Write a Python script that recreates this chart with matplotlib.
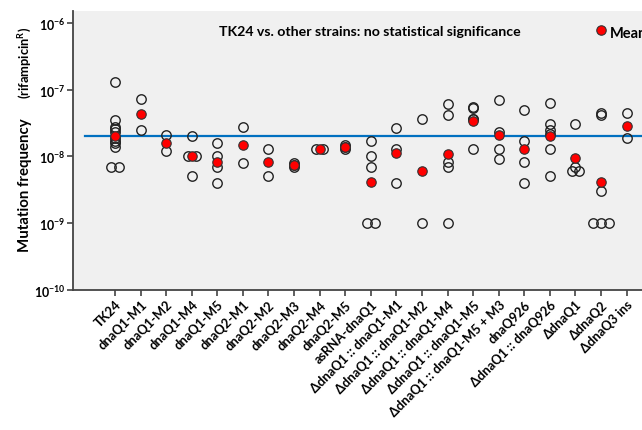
import numpy as np
import matplotlib
matplotlib.use("Agg")
import matplotlib.pyplot as plt

plt.rcParams['font.family'] = ['Lato', 'DejaVu Sans']
plt.rcParams['font.weight'] = 'bold'
plt.rcParams['mathtext.fontset'] = 'custom'
plt.rcParams['mathtext.rm'] = 'Lato'
plt.rcParams['mathtext.bf'] = 'Lato:bold'

strains = ["TK24", "dnaQ1-M1", "dnaQ1-M2", "dnaQ1-M4", "dnaQ1-M5",
           "dnaQ2-M1", "dnaQ2-M2", "dnaQ2-M3", "dnaQ2-M4", "dnaQ2-M5",
           "asRNA-dnaQ1", "ΔdnaQ1 :: dnaQ1-M1", "ΔdnaQ1 :: dnaQ1-M2",
           "ΔdnaQ1 :: dnaQ1-M4", "ΔdnaQ1 :: dnaQ1-M5", "ΔdnaQ1 :: dnaQ1-M5 + M3",
           "dnaQ926", "ΔdnaQ1 :: dnaQ926", "ΔdnaQ1", "ΔdnaQ2", "ΔdnaQ3 ins"]

replicates = [
    [1.32e-7, 3.5e-8, 2.8e-8, 2.6e-8, 2.3e-8, 1.9e-8, 1.73e-8, 1.58e-8, 1.4e-8, 7e-9, 7e-9],
    [7.3e-8, 2.5e-8],
    [2.12e-8, 1.2e-8],
    [2.0e-8, 1e-8, 1e-8, 5e-9],
    [1.6e-8, 1e-8, 7e-9, 4e-9],
    [2.8e-8, 7.9e-9],
    [1.3e-8, 5e-9],
    [8e-9, 7.5e-9, 7e-9],
    [1.3e-8, 1.3e-8],
    [1.5e-8, 1.4e-8, 1.3e-8],
    [1.7e-8, 1e-8, 7e-9, 1e-9, 1e-9],
    [2.7e-8, 1.3e-8, 4e-9],
    [3.7e-8, 1e-9],
    [6.1e-8, 4.2e-8, 8.1e-9, 7e-9, 1e-9],
    [5.6e-8, 5.3e-8, 3.7e-8, 3.6e-8, 1.3e-8],
    [6.9e-8, 2.35e-8, 1.3e-8, 9.1e-9],
    [4.9e-8, 1.7e-8, 8.1e-9, 4e-9],
    [6.3e-8, 3.1e-8, 2.5e-8, 2.2e-8, 1.3e-8, 5e-9],
    [3.1e-8, 7e-9, 6e-9, 6e-9],
    [4.4e-8, 4.2e-8, 3e-9, 1e-9, 1e-9, 1e-9],
    [4.4e-8, 1.9e-8],
]

means = [2.05e-8, 4.3e-8, 1.58e-8, 1.0e-8, 8.2e-9, 1.5e-8, 8.1e-9, 7.4e-9, 1.3e-8,
         1.4e-8, 4.1e-9, 1.12e-8, 6.0e-9, 1.1e-8, 3.4e-8, 2.1e-8, 1.29e-8, 2.0e-8,
         9.4e-9, 4.2e-9, 2.9e-8]

tk24_level = 2.05e-8

fig = plt.figure(figsize=(6.42, 4.31), dpi=100)
ax = fig.add_axes([0.1137, 0.3255, 0.8863, 0.6465])
ax.set_facecolor('#f0f0f0')

spacing = 0.30
for i, vals in enumerate(replicates):
    xs, ys = [], []
    for v in sorted(set(vals)):
        n = vals.count(v)
        for k in range(n):
            xs.append(i + (k - (n - 1) / 2) * spacing)
            ys.append(v)
    ax.plot(xs, ys, 'o', ms=6.8, mfc='none', mec='#222222', mew=1.0, zorder=3)

ax.plot(range(len(strains)), means, 'o', ms=6.8, mfc='#ff0000', mec='#333333',
        mew=0.8, zorder=4, ls='none')

ax.plot([-1.17, 21.5], [tk24_level, tk24_level], color='#0070c0', lw=1.6, zorder=2)

ax.set_yscale('log')
ax.set_ylim(1e-10, 10 ** -5.82)
ax.set_xlim(-1.64, 20.6)
ax.set_yticks([1e-10, 1e-9, 1e-8, 1e-7, 1e-6])
ax.set_yticklabels([r'$\mathbf{10^{-10}}$', r'$\mathbf{10^{-9}}$', r'$\mathbf{10^{-8}}$',
                    r'$\mathbf{10^{-7}}$', r'$\mathbf{10^{-6}}$'], fontsize=9)
ax.minorticks_off()
ax.set_xticks(range(len(strains)))
ax.set_xticklabels(strains, rotation=45, ha='right', va='top', rotation_mode='anchor',
                   fontsize=9.3, fontweight='bold')

for s in ['top', 'right']:
    ax.spines[s].set_visible(False)
for s in ['left', 'bottom']:
    ax.spines[s].set_color('#444444')
    ax.spines[s].set_linewidth(1.3)
ax.tick_params(axis='both', direction='out', color='#444444', width=1.2, length=4)
ax.tick_params(axis='x', pad=2)
ax.tick_params(axis='y', pad=1.5)

ax.text(0.522, 0.928, 'TK24 vs. other strains: no statistical significance',
        transform=ax.transAxes, ha='center', va='center', fontsize=10.2, fontweight='bold')

ax.plot([19.0], [10 ** -6.11], 'o', ms=6.8, mfc='#ff0000', mec='#333333', mew=0.8,
        clip_on=False)
ax.text(19.35, 10 ** -6.15, 'Mean', ha='left', va='center', fontsize=10.5,
        fontweight='bold', clip_on=False)

fig.text(0.039, 1 - 252 / 431, 'Mutation frequency', rotation=90, ha='center', va='bottom',
         fontsize=10.8, fontweight='bold')
fig.text(0.040, 1 - 27 / 431, r'(rifampicin$^\mathbf{R}$)', rotation=90, ha='center', va='top',
         fontsize=9.3, fontweight='bold')

fig.savefig('out.png', dpi=100)
